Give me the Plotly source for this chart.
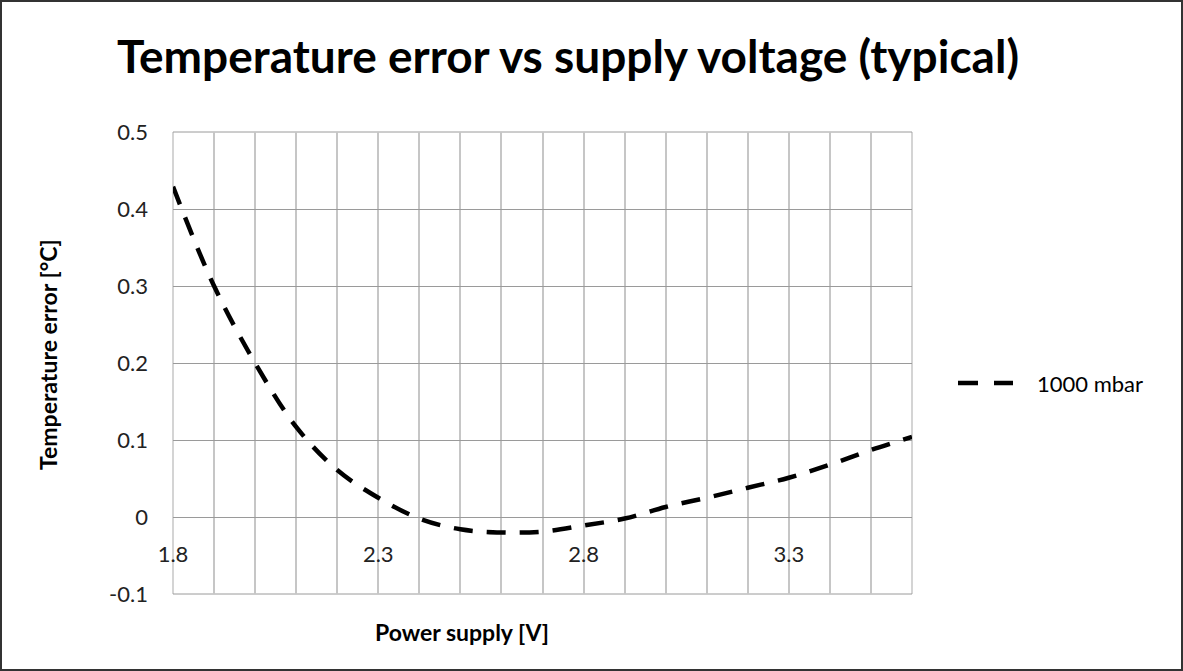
import plotly.graph_objects as go

# Data
voltage = [1.8, 1.9, 2.0, 2.1, 2.2, 2.3, 2.4, 2.5, 2.6, 2.7, 2.8, 2.9, 3.0, 3.1, 3.2, 3.3, 3.4, 3.5, 3.6]
temp_error = [0.429, 0.300, 0.200, 0.117, 0.061, 0.025, -0.002, -0.016, -0.020, -0.019, -0.011,
              -0.002, 0.013, 0.025, 0.038, 0.051, 0.068, 0.087, 0.104]
series_name = "1000 mbar"
x_tickvals = [1.8, 2.3, 2.8, 3.3]
x_ticktext = ["1.8", "2.3", "2.8", "3.3"]
y_tickvals = [-0.1, 0, 0.1, 0.2, 0.3, 0.4, 0.5]
y_ticktext = ["-0.1", "0", "0.1", "0.2", "0.3", "0.4", "0.5"]

W, H = 1183, 671
L, R, T, B = 173, 912, 132, 594   # plot area pixels
pw, ph = R - L, B - T


def px(x):
    return (x - L) / pw


def py(y):
    return (B - y) / ph


FONT = "Lato"
VGRID = "#c6c6c6"
HGRID = "#9a9a9a"

fig = go.Figure()
fig.add_trace(go.Scatter(
    x=voltage, y=temp_error, mode="lines", name=series_name,
    line=dict(color="black", width=4.5, dash="19px,14px", shape="spline"),
    showlegend=False,
))

fig.update_layout(
    width=W, height=H,
    margin=dict(l=L, r=W - R, t=T, b=H - B, autoexpand=False),
    paper_bgcolor="white", plot_bgcolor="white",
    title=dict(text="<b>Temperature error vs supply voltage (typical)</b>",
               x=px(568), xref="paper", xanchor="center",
               y=1 - 57 / H, yanchor="middle",
               font=dict(family=FONT, size=46, color="black")),
    xaxis=dict(range=[1.8, 3.6], tickvals=x_tickvals, ticktext=x_ticktext,
               showgrid=True, gridcolor=VGRID, gridwidth=1.5,
               minor=dict(dtick=0.1, tick0=1.8, showgrid=True, gridcolor=VGRID, gridwidth=1.5),
               anchor="free", position=py(517), ticks="", ticklabelstandoff=22,
               showline=False, zeroline=False,
               tickfont=dict(family=FONT, size=22, color="#222")),
    yaxis=dict(range=[-0.1, 0.5], tickvals=y_tickvals, ticktext=y_ticktext,
               showgrid=True, gridcolor=HGRID, gridwidth=1,
               zeroline=False, showline=False, ticks="", ticklabelstandoff=24,
               tickfont=dict(family=FONT, size=22, color="#222")),
)

# plot-area edges (gridlines at range ends)
for (x0, x1, y0, y1, c, w) in [(0, 0, 0, 1, VGRID, 1.5), (1, 1, 0, 1, VGRID, 1.5),
                                (0, 1, 0, 0, HGRID, 1), (0, 1, 1, 1, HGRID, 1)]:
    fig.add_shape(type="line", xref="paper", yref="paper", x0=x0, x1=x1, y0=y0, y1=y1,
                  line=dict(color=c, width=w), layer="below")

# axis titles
fig.add_annotation(text="<b>Power supply [V]</b>", x=px(462), y=py(632), xref="paper", yref="paper",
                   showarrow=False, xanchor="center", yanchor="middle",
                   font=dict(family=FONT, size=23, color="black"))
fig.add_annotation(text="<b>Temperature error [°C]</b>", x=px(48), y=py(355), xref="paper", yref="paper",
                   showarrow=False, xanchor="center", yanchor="middle", textangle=-90,
                   font=dict(family=FONT, size=23, color="black"))

# legend (manual, to reproduce the long dashed sample)
fig.add_shape(type="line", xref="paper", yref="paper", x0=px(958), x1=px(1013), y0=py(383), y1=py(383),
              line=dict(color="black", width=4.5, dash="20px,16px"))
fig.add_annotation(text=series_name, x=px(1035), y=py(383), xref="paper", yref="paper",
                   showarrow=False, xanchor="left", yanchor="middle",
                   font=dict(family=FONT, size=22, color="black"))

# chart border
fig.add_shape(type="rect", xref="paper", yref="paper", x0=px(1), x1=px(1182), y0=py(670), y1=py(1),
              line=dict(color="#333", width=2), layer="below")

fig.write_html("out.html", config={"displayModeBar": False},
               post_script="document.body.style.margin='0';")
